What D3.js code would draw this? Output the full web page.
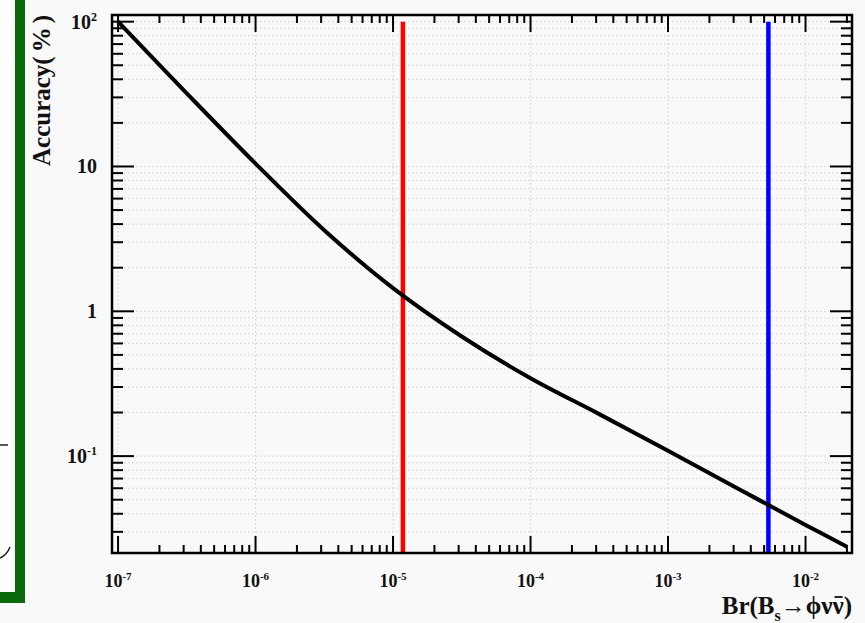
<!doctype html>
<html>
<head>
<meta charset='utf-8'>
<style>
  body { margin: 0; background: #f9f9f9; }
  svg text { font-family: 'Liberation Serif', 'Times New Roman', serif; font-weight: bold; fill: #111; }
</style>
</head>
<body>
<div id='chart'></div>
<script src='https://cdn.jsdelivr.net/npm/d3@7'></script>
<script>

// branching ratio vs accuracy curve (half decades)
const branching = [1e-7, 3.16e-7, 1e-6, 3.16e-6, 1e-5, 3.16e-5, 1e-4, 3.16e-4, 1e-3, 3.16e-3, 1e-2, 2e-2];
const accuracy  = [100, 32.0, 10.47, 3.63, 1.445, 0.67, 0.345, 0.195, 0.109, 0.0603, 0.0335, 0.0237];

// vertical markers (red, blue)
const markerVals   = [1.18e-5, 5.37e-3];
const markerColors = ['#ff0000', '#0000ff'];

// tick labels: base and exponent
const xTickExp = [-7, -6, -5, -4, -3, -2];
const yTickVals = [0.1, 1, 10, 100];
const yTickText = [['10', '-1'], ['1', ''], ['10', ''], ['10', '2']];

const W = 865, H = 623;
const frame = {l: 112, r: 852, t: 15, b: 553};

const svg = d3.select('#chart').append('svg')
  .attr('width', W)
  .attr('height', H);

svg.append('rect').attr('width', W).attr('height', H).attr('fill', '#f9f9f9');

// slide leftover on the left
svg.append('rect').attr('x', 0).attr('y', 0).attr('width', 15).attr('height', 592).attr('fill', '#fff');
svg.append('rect').attr('x', 15).attr('y', 0).attr('width', 10).attr('height', 603).attr('fill', '#0b6a0b');
svg.append('rect').attr('x', 0).attr('y', 592).attr('width', 25).attr('height', 11).attr('fill', '#0b6a0b');
svg.append('path').attr('d', 'M0,445 L8,445').attr('stroke', '#222').attr('stroke-width', 1.5);
svg.append('path').attr('d', 'M10,547 Q7,555 0,558').attr('fill', 'none').attr('stroke', '#222').attr('stroke-width', 1.5);

const x = d3.scaleLog()
  .domain([Math.pow(10, -7.044), Math.pow(10, -1.662)])
  .range([frame.l, frame.r]);
const y = d3.scaleLog()
  .domain([Math.pow(10, -1.669), Math.pow(10, 2.046)])
  .range([frame.b, frame.t]);

// tick positions: majors and minors per decade
const xMajor = [], xMinor = [];
for (let e = -8; e <= -1; e++) {
  for (let m = 1; m <= 9; m++) {
    const v = m * Math.pow(10, e);
    if (v < x.domain()[0] || v > x.domain()[1]) continue;
    (m === 1 ? xMajor : xMinor).push(v);
  }
}
const yMajor = [], yMinor = [];
for (let e = -2; e <= 2; e++) {
  for (let m = 1; m <= 9; m++) {
    const v = m * Math.pow(10, e);
    if (v < y.domain()[0] || v > y.domain()[1]) continue;
    (m === 1 ? yMajor : yMinor).push(v);
  }
}

// grid: dotted, all y ticks, x majors only
const grid = svg.append('g')
  .attr('stroke', '#d2d2d2')
  .attr('stroke-width', 1)
  .attr('stroke-dasharray', '1.5,2.5');
grid.selectAll('.gy').data(yMajor.concat(yMinor)).enter().append('line')
  .attr('x1', frame.l).attr('x2', frame.r)
  .attr('y1', d => y(d)).attr('y2', d => y(d));
grid.selectAll('.gx').data(xMajor).enter().append('line')
  .attr('y1', frame.t).attr('y2', frame.b)
  .attr('x1', d => x(d)).attr('x2', d => x(d));

// markers
svg.selectAll('.marker').data(markerVals).enter().append('line')
  .attr('x1', d => x(d)).attr('x2', d => x(d))
  .attr('y1', y(100)).attr('y2', frame.b)
  .attr('stroke', (d, i) => markerColors[i])
  .attr('stroke-width', 4.5);

// curve
const pts = branching.map((b, i) => [b, accuracy[i]]);
svg.append('path')
  .datum(pts)
  .attr('fill', 'none')
  .attr('stroke', '#000')
  .attr('stroke-width', 4)
  .attr('d', d3.line()
    .x(d => x(d[0]))
    .y(d => y(d[1]))
    .curve(d3.curveCatmullRom.alpha(0.5)));

// ticks on all four sides, pointing in
const ticks = svg.append('g').attr('stroke', '#000').attr('stroke-width', 2);
function xTicks(vals, len) {
  vals.forEach(v => {
    ticks.append('line').attr('x1', x(v)).attr('x2', x(v)).attr('y1', frame.b).attr('y2', frame.b - len);
    ticks.append('line').attr('x1', x(v)).attr('x2', x(v)).attr('y1', frame.t).attr('y2', frame.t + len);
  });
}
function yTicks(vals, len) {
  vals.forEach(v => {
    ticks.append('line').attr('y1', y(v)).attr('y2', y(v)).attr('x1', frame.l).attr('x2', frame.l + len);
    ticks.append('line').attr('y1', y(v)).attr('y2', y(v)).attr('x1', frame.r).attr('x2', frame.r - len);
  });
}
xTicks(xMajor, 17);
xTicks(xMinor, 8);
yTicks(yMajor, 22);
yTicks(yMinor, 11);

// frame
svg.append('rect')
  .attr('x', frame.l).attr('y', frame.t)
  .attr('width', frame.r - frame.l).attr('height', frame.b - frame.t)
  .attr('fill', 'none').attr('stroke', '#000').attr('stroke-width', 2.5);

// x labels
const xl = svg.selectAll('.xl').data(xTickExp).enter().append('text')
  .attr('x', d => x(Math.pow(10, d)))
  .attr('y', 587)
  .attr('text-anchor', 'middle')
  .style('font-size', '18px');
xl.append('tspan').text('10');
xl.append('tspan').attr('dy', -7).style('font-size', '11px').text(d => d);

// y labels
const yl = svg.selectAll('.yl').data(yTickVals).enter().append('text')
  .attr('x', 97)
  .attr('y', d => y(d) + 7)
  .attr('text-anchor', 'end')
  .style('font-size', '20px');
yl.append('tspan').text((d, i) => yTickText[i][0]);
yl.append('tspan').attr('dy', -8).style('font-size', '12px').text((d, i) => yTickText[i][1]);

// axis titles
const yt = svg.append('text')
  .attr('transform', 'translate(50,15) rotate(-90)')
  .attr('text-anchor', 'end')
  .style('font-size', '25px');
yt.append('tspan').text('Accuracy(');
yt.append('tspan').attr('dx', 4).text('%');
yt.append('tspan').attr('dx', 4).text(')');

const xt = svg.append('text')
  .attr('x', 852)
  .attr('y', 614)
  .attr('text-anchor', 'end')
  .style('font-size', '25px');
xt.append('tspan').text('Br(B');
xt.append('tspan').attr('dy', 7).style('font-size', '16px').text('s');
xt.append('tspan').attr('dy', -7).text('\u2192\u03d5\u03bd\u03bd)');

// bar over the last nu
const tnode = xt.node();
const nChars = tnode.getNumberOfChars();
const nu = tnode.getExtentOfChar(nChars - 2);
svg.append('line')
  .attr('x1', nu.x + 2).attr('x2', nu.x + nu.width - 1)
  .attr('y1', 597).attr('y2', 597)
  .attr('stroke', '#111').attr('stroke-width', 1.8);

</script>
</body>
</html>
